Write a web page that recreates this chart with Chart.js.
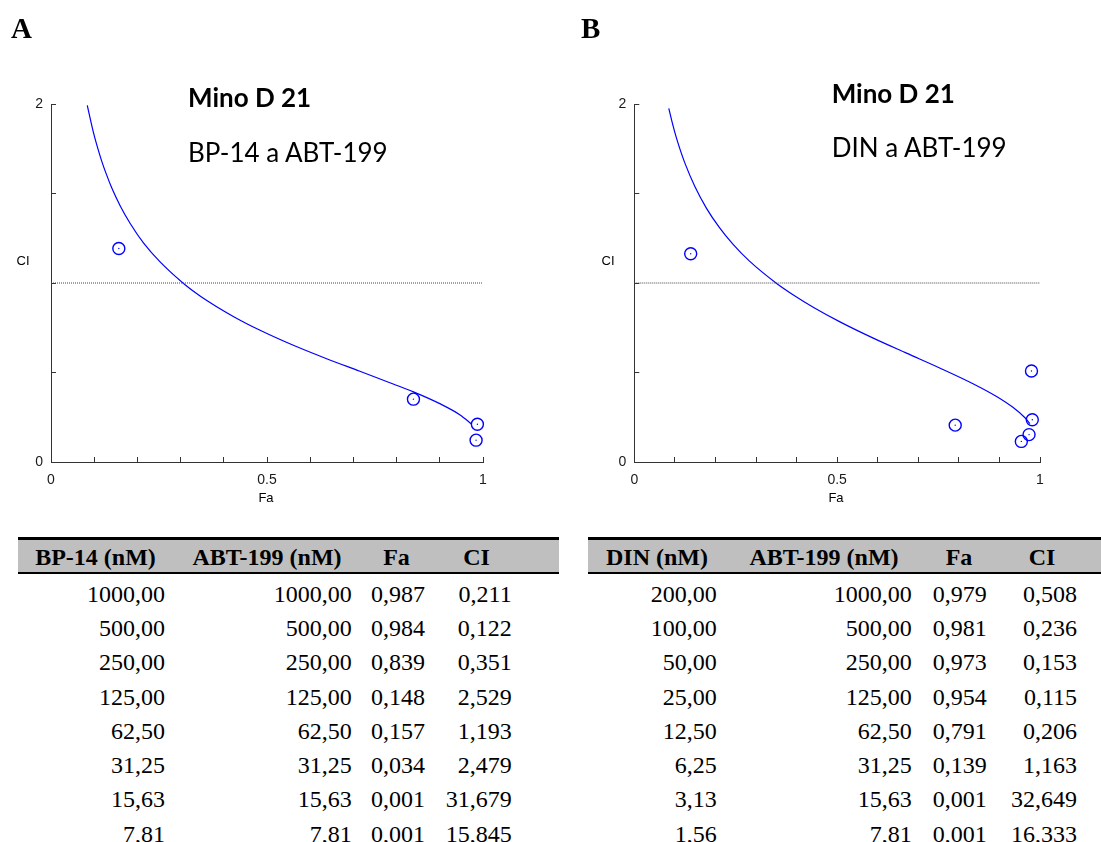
<!DOCTYPE html>
<html><head><meta charset="utf-8">
<script src="https://cdn.jsdelivr.net/npm/chart.js@4.4.0/dist/chart.umd.min.js"></script>
<style>
html,body{margin:0;padding:0;background:#fff;}
body{width:1101px;height:842px;position:relative;overflow:hidden;}
.abs{position:absolute;white-space:nowrap;color:#000;}
canvas{position:absolute;}
</style></head><body>
<canvas id="cA" width="560" height="520" style="left:0;top:0;width:560px;height:520px"></canvas>
<canvas id="cB" width="541" height="520" style="left:560px;top:0;width:541px;height:520px"></canvas>
<script>
// ---------- DATA ----------
const panelLabels = ['A', 'B'];
const chartTitles = ['Mino D 21', 'Mino D 21'];
const chartSubtitles = ['BP-14 a ABT-199', 'DIN a ABT-199'];
const xAxisTitle = 'Fa';
const yAxisTitle = 'CI';
const xLabeledTicks = [0, 0.5, 1];
const yLabeledTicks = [0, 2];

// Table / points, panel A
const headA = ['BP-14 (nM)', 'ABT-199 (nM)', 'Fa', 'CI'];
const bp14 = [1000, 500, 250, 125, 62.5, 31.25, 15.63, 7.81];
const abtA = [1000, 500, 250, 125, 62.5, 31.25, 15.63, 7.81];
const faA = [0.987, 0.984, 0.839, 0.148, 0.157, 0.034, 0.001, 0.001];
const ciA = [0.211, 0.122, 0.351, 2.529, 1.193, 2.479, 31.679, 15.845];

// Table / points, panel B
const headB = ['DIN (nM)', 'ABT-199 (nM)', 'Fa', 'CI'];
const din = [200, 100, 50, 25, 12.5, 6.25, 3.13, 1.56];
const abtB = [1000, 500, 250, 125, 62.5, 31.25, 15.63, 7.81];
const faB = [0.979, 0.981, 0.973, 0.954, 0.791, 0.139, 0.001, 0.001];
const ciB = [0.508, 0.236, 0.153, 0.115, 0.206, 1.163, 32.649, 16.333];

// Fa-CI simulation curves
const curveFaA = [0.084, 0.090, 0.098, 0.107, 0.117, 0.127, 0.140, 0.160, 0.183, 0.214, 0.252, 0.306, 0.345, 0.423, 0.484, 0.561, 0.638, 0.715, 0.792, 0.839, 0.900, 0.947, 0.974];
const curveCiA = [1.993, 1.926, 1.843, 1.763, 1.684, 1.615, 1.535, 1.432, 1.334, 1.224, 1.119, 0.999, 0.928, 0.812, 0.736, 0.652, 0.577, 0.507, 0.436, 0.392, 0.326, 0.263, 0.211];
const curveFaB = [0.085, 0.094, 0.104, 0.114, 0.124, 0.149, 0.178, 0.210, 0.243, 0.284, 0.350, 0.395, 0.441, 0.507, 0.589, 0.671, 0.754, 0.836, 0.893, 0.934, 0.963, 0.975];
const curveCiB = [1.976, 1.892, 1.809, 1.738, 1.674, 1.540, 1.417, 1.309, 1.217, 1.122, 0.999, 0.929, 0.865, 0.783, 0.692, 0.608, 0.524, 0.436, 0.366, 0.304, 0.247, 0.215];

// additivity reference line
const refFa = [0, 1];
const refCi = [1, 1];

const xRange = [0, 1], xStep = 0.1;
const yRange = [0, 2], yStep = 0.5;

// ---------- helpers ----------
const mctx = document.createElement('canvas').getContext('2d');
function putText(txt, x, base, font, align) {
  mctx.font = font;
  const m = mctx.measureText(txt);
  const fA = m.fontBoundingBoxAscent, fD = m.fontBoundingBoxDescent;
  const L = Math.ceil(fA + fD) + 2;
  const top = base - fA - (L - fA - fD) / 2;
  const d = document.createElement('div');
  d.className = 'abs';
  d.textContent = txt;
  d.style.font = font;
  d.style.lineHeight = L + 'px';
  d.style.top = top + 'px';
  const w = 400;
  if (align === 'left') d.style.left = x + 'px';
  else if (align === 'right') { d.style.left = (x - w) + 'px'; d.style.width = w + 'px'; d.style.textAlign = 'right'; }
  else { d.style.left = (x - w / 2) + 'px'; d.style.width = w + 'px'; d.style.textAlign = 'center'; }
  document.body.appendChild(d);
  return d;
}
function box(l, t, w, h, bg) {
  const d = document.createElement('div');
  d.style.cssText = `position:absolute;left:${l}px;top:${t}px;width:${w}px;height:${h}px;background:${bg}`;
  document.body.appendChild(d);
}
const near = (v, arr) => arr.some(a => Math.abs(a - v) < 1e-9);
const fmt = (v, d) => v.toFixed(d).replace('.', ',');
const pairs = (xs, ys) => xs.map((x, i) => ({x, y: ys[i]}));

function makeChart(id, W, H, area, fa, ci, cfa, cci) {
  const pts = pairs(fa, ci).filter(p => p.y <= yRange[1] && p.y >= yRange[0] && p.x >= xRange[0] && p.x <= xRange[1]);
  const blue = 'rgb(0,0,255)';
  const axisCol = '#333';
  const yW = 30, xH = 40;
  new Chart(document.getElementById(id), {
    type: 'scatter',
    data: {
      datasets: [
        {data: pairs(refFa, refCi), showLine: true, pointRadius: 0, borderColor: '#444', borderWidth: 1, borderDash: [1, 1], clip: false},
        {data: pairs(cfa, cci), showLine: true, pointRadius: 0, borderColor: blue, borderWidth: 1.2, cubicInterpolationMode: 'monotone', clip: false},
        {data: pts, pointRadius: 6, pointBorderWidth: 1.4, pointBorderColor: blue, pointBackgroundColor: 'rgba(0,0,0,0)', clip: false},
        {data: pts, pointRadius: 0.7, pointBorderWidth: 0, pointBackgroundColor: blue, clip: false}
      ]
    },
    options: {
      responsive: false, animation: false, events: [],
      layout: {padding: {left: area.left - yW, right: W - area.right, top: area.top, bottom: H - area.bottom - xH}},
      plugins: {legend: {display: false}, tooltip: {enabled: false}},
      scales: {
        x: {
          type: 'linear', min: xRange[0], max: xRange[1],
          afterFit(s) { s.height = xH; },
          ticks: {stepSize: xStep, autoSkip: false, maxRotation: 0, padding: 15, color: '#1a1a1a',
            font: {family: 'Liberation Sans', size: 14},
            callback: v => near(v, xLabeledTicks) ? String(Math.round(v * 10) / 10) : ''},
          grid: {drawOnChartArea: false, drawTicks: true, tickLength: -5, color: axisCol, lineWidth: 1},
          border: {display: true, color: axisCol, width: 1}
        },
        y: {
          type: 'linear', min: yRange[0], max: yRange[1],
          afterFit(s) { s.width = yW; },
          ticks: {stepSize: yStep, autoSkip: false, padding: 13, color: '#1a1a1a',
            font: {family: 'Liberation Sans', size: 14},
            callback: v => near(v, yLabeledTicks) ? String(Math.round(v * 10) / 10) : ''},
          grid: {drawOnChartArea: false, drawTicks: true, tickLength: -5, color: axisCol, lineWidth: 1},
          border: {display: true, color: axisCol, width: 1}
        }
      }
    }
  });
}

makeChart('cA', 560, 520, {left: 51, right: 483, top: 104, bottom: 462}, faA, ciA, curveFaA, curveCiA);
makeChart('cB', 541, 520, {left: 74.3, right: 480, top: 104, bottom: 462}, faB, ciB, curveFaB, curveCiB);

// ---------- texts ----------
putText(panelLabels[0], 11, 38, 'bold 29px "Liberation Serif"', 'left');
putText(panelLabels[1], 581, 38, 'bold 29px "Liberation Serif"', 'left');
putText(chartTitles[0], 188, 107, 'bold 26px Lato', 'left');
putText(chartSubtitles[0], 188, 161.7, '26px Lato', 'left');
putText(chartTitles[1], 831.7, 103, 'bold 26px Lato', 'left');
putText(chartSubtitles[1], 831.7, 157, '26px Lato', 'left');
putText(yAxisTitle, 23, 265, '13px "Liberation Sans"', 'center');
putText(yAxisTitle, 608, 265, '13px "Liberation Sans"', 'center');
putText(xAxisTitle, 266, 502, '13px "Liberation Sans"', 'center');
putText(xAxisTitle, 836, 502, '13px "Liberation Sans"', 'center');

// ---------- tables ----------
function table(x0, x1, head, headCenters, colRights, cols) {
  box(x0, 537, x1 - x0, 3, '#000');
  box(x0, 540, x1 - x0, 32, '#bfbfbf');
  box(x0, 572, x1 - x0, 2, '#000');
  head.forEach((h, i) => putText(h, headCenters[i], 565, 'bold 24px "Liberation Serif"', 'center'));
  const digits = [2, 2, 3, 3];
  cols.forEach((col, c) => col.forEach((v, r) => putText(fmt(v, digits[c]), colRights[c], 601.7 + r * 34.29, '24px "Liberation Serif"', 'right')));
}
table(18, 559, headA, [95.5, 267, 396.5, 476.5], [165, 351.7, 425, 511.7], [bp14, abtA, faA, ciA]);
table(588, 1101, headB, [657, 824, 959, 1042], [716.7, 911.7, 986.7, 1077], [din, abtB, faB, ciB]);
</script>
</body></html>
